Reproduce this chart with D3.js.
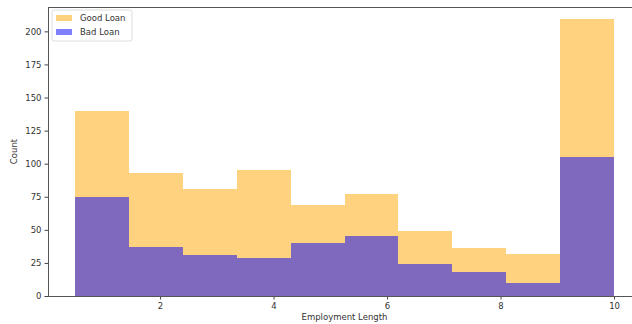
<!DOCTYPE html>
<html>
<head>
<meta charset="utf-8">
<script src="https://cdn.jsdelivr.net/npm/d3@7"></script>
<style>
    body { margin: 0; background: #fff; }
    svg { display: block; font-family: 'DejaVu Sans', sans-serif; }
</style>
</head>
<body>
<svg width="632" height="324"></svg>
<script>
// histogram bins (employment length) and counts per bin
const binEdges = [0.5, 1.45, 2.4, 3.35, 4.3, 5.25, 6.2, 7.15, 8.1, 9.05, 10]
const goodLoan = [140, 93, 81, 95, 69, 77, 49, 36, 32, 209]
const badLoan = [75, 37, 31, 29, 40, 45, 24, 18, 10, 105]
const xTicks = [2, 4, 6, 8, 10]
const yTicks = [0, 25, 50, 75, 100, 125, 150, 175, 200]
const seriesNames = ['Good Loan', 'Bad Loan']
const seriesColors = ['orange', 'blue']

const svg = d3.select('svg')
const plotLeft = 48, plotRight = 641, plotTop = 7, plotBottom = 296

const x = d3.scaleLinear().domain([0.025, 10.475]).range([plotLeft, plotRight])
const y = d3.scaleLinear().domain([0, 218.4]).range([plotBottom, plotTop])

const bins = d3.range(binEdges.length - 1).map(i => ({ x0: binEdges[i], x1: binEdges[i + 1] }))

// draw each series as overlapping translucent bars
;[goodLoan, badLoan].forEach((values, s) => {
    svg.append('g')
        .selectAll('rect')
        .data(bins)
        .join('rect')
        .attr('x', d => x(d.x0))
        .attr('width', d => x(d.x1) - x(d.x0))
        .attr('y', (d, i) => y(values[i]))
        .attr('height', (d, i) => y(0) - y(values[i]))
        .attr('fill', seriesColors[s])
        .attr('fill-opacity', 0.5)
        .attr('shape-rendering', 'crispEdges')
})

// axes
const xAxis = svg.append('g')
    .attr('transform', `translate(0,${plotBottom})`)
    .call(d3.axisBottom(x).tickValues(xTicks).tickSize(3.5).tickPadding(3).tickFormat(d3.format('d')))
const yAxis = svg.append('g')
    .attr('transform', `translate(${plotLeft},0)`)
    .call(d3.axisLeft(y).tickValues(yTicks).tickSize(3.5).tickPadding(3).tickFormat(d3.format('d')))

;[xAxis, yAxis].forEach(g => {
    g.select('.domain').remove()
    g.selectAll('line').attr('stroke', '#444')
    g.selectAll('text').attr('font-size', '8.5px').attr('fill', '#333').attr('font-family', 'DejaVu Sans, sans-serif')
})

// spines
svg.append('rect')
    .attr('x', plotLeft).attr('y', plotTop)
    .attr('width', plotRight - plotLeft).attr('height', plotBottom - plotTop)
    .attr('fill', 'none').attr('stroke', '#555').attr('stroke-width', 1)
    .attr('shape-rendering', 'crispEdges')

// axis labels
svg.append('text')
    .attr('x', (plotLeft + plotRight) / 2).attr('y', 320)
    .attr('text-anchor', 'middle')
    .attr('font-size', '8.5px').attr('fill', '#333')
    .text('Employment Length')

svg.append('text')
    .attr('transform', `translate(17,${(plotTop + plotBottom) / 2}) rotate(-90)`)
    .attr('text-anchor', 'middle')
    .attr('font-size', '8.5px').attr('fill', '#333')
    .text('Count')

// legend
const legend = svg.append('g').attr('transform', 'translate(52,10)')
legend.append('rect')
    .attr('width', 80).attr('height', 31).attr('rx', 2)
    .attr('fill', '#fff').attr('fill-opacity', 0.8)
    .attr('stroke', '#ddd')

const item = legend.selectAll('.item')
    .data(seriesNames)
    .join('g')
    .attr('class', 'item')
    .attr('transform', (d, i) => `translate(4,${5 + i * 14})`)
item.append('rect')
    .attr('width', 16).attr('height', 6)
    .attr('fill', (d, i) => seriesColors[i])
    .attr('fill-opacity', 0.5)
item.append('text')
    .attr('x', 24).attr('y', 3)
    .attr('dominant-baseline', 'central')
    .attr('font-size', '8.5px').attr('fill', '#333')
    .text(d => d)
</script>
</body>
</html>
